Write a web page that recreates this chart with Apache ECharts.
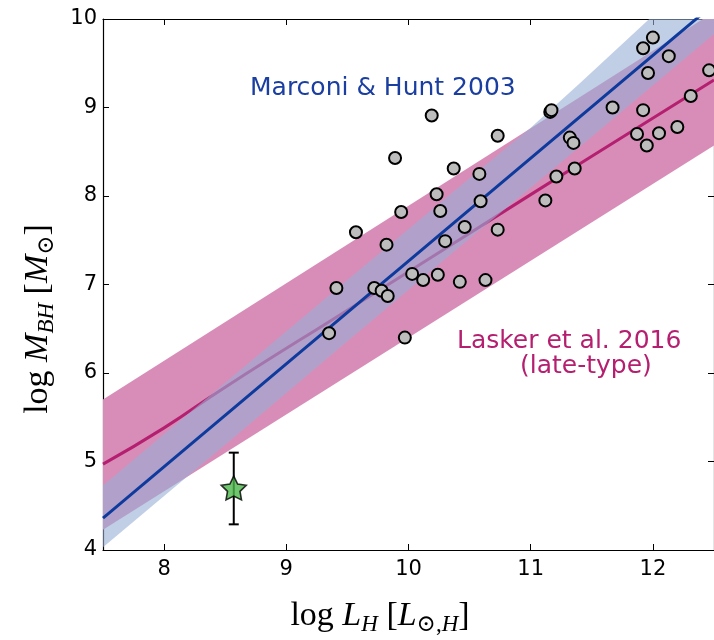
<!DOCTYPE html>
<html>
<head>
<meta charset="utf-8">
<script src="https://cdn.jsdelivr.net/npm/echarts@6/dist/echarts.min.js"></script>
<style>
html, body { margin: 0; padding: 0; background: #fff; }
#main { width: 714px; height: 640px; }
</style>
</head>
<body>
<div id="main"></div>
<script>
// galaxies: [log L_H, log M_BH]
var galaxies = [
    [10.19, 8.91], [10.73, 8.68], [9.89, 8.43], [10.37, 8.31], [10.58, 8.25],
    [10.23, 8.02], [10.59, 7.94], [9.94, 7.82], [10.26, 7.83], [9.57, 7.59],
    [10.46, 7.65], [10.73, 7.62], [9.82, 7.45], [10.30, 7.49], [10.03, 7.12],
    [10.12, 7.05], [10.24, 7.11], [10.42, 7.03], [10.63, 7.05], [9.41, 6.96],
    [9.72, 6.96], [9.78, 6.93], [9.83, 6.87], [9.35, 6.45], [9.97, 6.40],
    [12.00, 9.79], [11.92, 9.67], [12.13, 9.58], [11.96, 9.39], [12.46, 9.42],
    [11.16, 8.95], [11.17, 8.97], [11.67, 9.00], [11.92, 8.97], [12.31, 9.13],
    [11.32, 8.66], [11.35, 8.60], [11.87, 8.70], [12.05, 8.71], [12.20, 8.78],
    [11.95, 8.57], [11.36, 8.31], [11.21, 8.22], [11.12, 7.95]
];
// our object with its error bar
var starPoint = [8.57, 4.70];
var starErr = [4.29, 5.10];

// Marconi & Hunt 2003
var marconiLine = [[7.5, 4.36], [12.5, 10.17]];
var marconiUpper = [[7.5, 4.73], [8.5, 5.89], [9.5, 7.05], [10.5, 8.20], [11.0, 8.77], [11.4, 9.27], [11.97, 10.0], [12.5, 10.0]];
var marconiLower = [[7.5, 4.03], [8.5, 5.19], [9.5, 6.36], [10.5, 7.52], [11.5, 8.67], [12.5, 9.83]];

// Lasker et al. 2016 (late-type)
var laskerLine = [[7.5, 4.97], [8.0, 5.38], [8.5, 5.84], [9.5, 6.71], [10.5, 7.58], [11.5, 8.45], [12.5, 9.31]];
var laskerUpper = [[7.5, 5.70], [12.41, 10.0], [12.5, 10.0]];
var laskerLower = [[7.5, 4.23], [12.5, 8.57]];

var xTicks = [8, 9, 10, 11, 12];
var yTicks = [4, 5, 6, 7, 8, 9, 10];

var blueDark = '#0d3a9c';
var magenta = '#b51f6f';

function bandRender(upper, lower, fill) {
    return function (params, api) {
        var pts = [];
        for (var i = 0; i < upper.length; i++) pts.push(api.coord(upper[i]));
        for (var j = lower.length - 1; j >= 0; j--) pts.push(api.coord(lower[j]));
        return { type: 'polygon', shape: { points: pts }, style: { fill: fill } };
    };
}

var serif = 'Liberation Serif, DejaVu Serif, serif';
var titleRich = {
    r: { fontFamily: serif, fontSize: 34, lineHeight: 40, verticalAlign: 'middle', fill: '#000', color: '#000' },
    i: { fontFamily: serif, fontStyle: 'italic', fontSize: 34, lineHeight: 40, verticalAlign: 'middle', fill: '#000', color: '#000' },
    s: { fontFamily: serif, fontStyle: 'italic', fontSize: 23, lineHeight: 20, verticalAlign: 'bottom', fill: '#000', color: '#000' },
    sn: { fontFamily: serif, fontSize: 23, lineHeight: 20, verticalAlign: 'bottom', fill: '#000', color: '#000' }
};

var myChart = echarts.init(document.getElementById('main'));
var axisCommon = {
    type: 'value',
    axisLine: { show: true, lineStyle: { color: '#000', width: 1.2 } },
    splitLine: { show: false },
    axisTick: { show: true, inside: true, length: 6, lineStyle: { color: '#000', width: 1 } }
};
var option = {
    backgroundColor: '#fff',
    animation: false,
    grid: { left: 103, top: 19, width: 613, height: 531 },
    xAxis: [
        Object.assign({}, axisCommon, {
            position: 'bottom', min: 7.5, max: 12.5, interval: 0.5,
            axisTick: Object.assign({}, axisCommon.axisTick, { customValues: xTicks }),
            axisLabel: { customValues: xTicks, margin: 9, fontSize: 21, fontFamily: 'DejaVu Sans', color: '#000' }
        }),
        Object.assign({}, axisCommon, {
            position: 'top', min: 7.5, max: 12.5, interval: 0.5,
            axisTick: Object.assign({}, axisCommon.axisTick, { customValues: xTicks }),
            axisLabel: { show: false }
        })
    ],
    yAxis: [
        Object.assign({}, axisCommon, {
            position: 'left', min: 4, max: 10, interval: 1,
            axisLabel: { margin: 6, fontSize: 21, fontFamily: 'DejaVu Sans', color: '#000' }
        }),
        Object.assign({}, axisCommon, {
            position: 'right', min: 4, max: 10, interval: 1,
            axisLabel: { show: false }
        })
    ],
    series: [
        {
            name: 'Lasker band', type: 'custom', z: 1, silent: true,
            data: [[10, 7]],
            renderItem: bandRender(laskerUpper, laskerLower, 'rgb(216,141,184)')
        },
        {
            name: 'Lasker et al. 2016', type: 'line', z: 2, data: laskerLine,
            showSymbol: false, smooth: true,
            lineStyle: { color: magenta, width: 3 }
        },
        {
            name: 'Marconi band', type: 'custom', z: 3, silent: true,
            data: [[10, 7]],
            renderItem: bandRender(marconiUpper, marconiLower, 'rgba(152,175,213,0.6)')
        },
        {
            name: 'Marconi & Hunt 2003', type: 'line', z: 4, data: marconiLine,
            showSymbol: false,
            lineStyle: { color: blueDark, width: 3 }
        },
        {
            name: 'galaxies', type: 'scatter', z: 5, data: galaxies,
            symbol: 'circle', symbolSize: 12,
            itemStyle: { color: '#bdbdbd', borderColor: '#000', borderWidth: 2, opacity: 1 }
        },
        {
            name: 'error', type: 'custom', z: 6,
            data: [[starPoint[0], starErr[0], starErr[1]]],
            renderItem: function (params, api) {
                var lo = api.coord([api.value(0), api.value(1)]);
                var hi = api.coord([api.value(0), api.value(2)]);
                var style = { stroke: '#000', lineWidth: 2 };
                return {
                    type: 'group',
                    children: [
                        { type: 'line', shape: { x1: lo[0], y1: lo[1], x2: hi[0], y2: hi[1] }, style: style },
                        { type: 'line', shape: { x1: lo[0] - 5, y1: lo[1], x2: lo[0] + 5, y2: lo[1] }, style: style },
                        { type: 'line', shape: { x1: hi[0] - 5, y1: hi[1], x2: hi[0] + 5, y2: hi[1] }, style: style }
                    ]
                };
            }
        },
        {
            name: 'star', type: 'scatter', z: 7, data: [starPoint],
            symbol: 'path://M0,-10L2.94,-4.05L9.51,-3.09L4.76,1.55L5.88,8.09L0,5.2L-5.88,8.09L-4.76,1.55L-9.51,-3.09L-2.94,-4.05Z',
            symbolKeepAspect: true, symbolSize: 25,
            itemStyle: { color: '#4cb84a', borderColor: '#000', borderWidth: 1.6 }
        }
    ],
    graphic: [
        {
            type: 'text', left: 250, top: 76, z: 10,
            style: { text: 'Marconi & Hunt 2003', fill: '#1b3fa0', font: '25px "DejaVu Sans"' }
        },
        {
            type: 'text', left: 457, top: 329, z: 10,
            style: { text: 'Lasker et al. 2016', fill: magenta, font: '25px "DejaVu Sans"' }
        },
        {
            type: 'text', left: 520, top: 354, z: 10,
            style: { text: '(late-type)', fill: magenta, font: '25px "DejaVu Sans"' }
        },
        {
            type: 'text', x: 380, y: 616, z: 10,
            style: {
                text: '{r|log }{i|L}{s|H}{r| [}{i|L}{sn|⊙,}{s|H}{r|]}',
                rich: titleRich, align: 'center', verticalAlign: 'middle'
            }
        },
        {
            type: 'text', x: 38, y: 319, rotation: Math.PI / 2, z: 10,
            style: {
                text: '{r|log }{i|M}{s|BH}{r| [}{i|M}{sn|⊙}{r|]}',
                rich: titleRich, align: 'center', verticalAlign: 'middle'
            }
        }
    ]
};
myChart.setOption(option);
</script>
</body>
</html>
